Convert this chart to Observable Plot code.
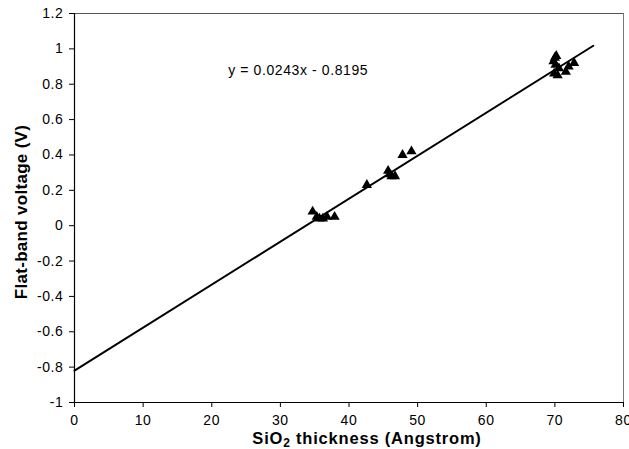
<!DOCTYPE html>
<html><head><meta charset="utf-8">
<script src="https://cdn.jsdelivr.net/npm/d3@7"></script>
<script src="https://cdn.jsdelivr.net/npm/@observablehq/plot@0.6"></script>
<style>
body{margin:0;background:#fff;}
svg{font-family:Arial,"Liberation Sans",sans-serif;}
</style>
</head><body>
<div id="chart"></div>
<script>
const thickness = [34.7,35.3,35.7,36.2,36.8,37.9, 42.6,45.7,45.9,46.2,46.7,47.8,49.1, 69.8,70.0,70.2,70.1,69.9,70.4,70.6,71.6,72.0,72.8];
const vfb       = [0.08,0.05,0.04,0.04,0.05,0.05, 0.23,0.31,0.29,0.28,0.28,0.40,0.42, 0.93,0.95,0.96,0.91,0.86,0.85,0.89,0.87,0.90,0.92];
const fitX = [0, 75.6];
const slope = 0.0243, intercept = -0.8195;
const xTicks = [0,10,20,30,40,50,60,70,80];
const yTicks = [-1,-0.8,-0.6,-0.4,-0.2,0,0.2,0.4,0.6,0.8,1,1.2];
const eqLabel = "y = 0.0243x - 0.8195";

const pts = thickness.map((x,i)=>({x, y: vfb[i]}));
const fit = fitX.map(x=>({x, y: slope*x+intercept}));
const fmt = d => String(+d.toFixed(1));

const plot = Plot.plot({
  width: 629, height: 449,
  marginLeft: 74, marginRight: 6, marginTop: 13, marginBottom: 47,
  style: {fontFamily: "Arial, 'Liberation Sans', sans-serif", fontSize: "14px", color: "#000", background: "#fff", letterSpacing: "0.6px"},
  x: {domain: [0,80], label: null},
  y: {domain: [-1,1.2], label: null},
  marks: [
    Plot.ruleY([1.2], {stroke: "#555", strokeWidth: 1}),
    Plot.ruleX([80], {stroke: "#777", strokeWidth: 1}),
    Plot.ruleX([0], {stroke: "#000", strokeWidth: 1.2}),
    Plot.ruleY([-1], {stroke: "#000", strokeWidth: 1.2}),
    Plot.axisX({ticks: xTicks, tickFormat: fmt, tickSize: 5, tickPadding: 8, label: null, fontSize: 14}),
    Plot.axisY({ticks: yTicks, tickFormat: fmt, tickSize: 5, tickPadding: 6, label: null, fontSize: 14}),
    Plot.line(fit, {x: "x", y: "y", stroke: "#000", strokeWidth: 2}),
    Plot.dot(pts, {x: "x", y: "y", symbol: "triangle", fill: "#000", r: 3.8}),
    Plot.text([{x: 22.4, y: 0.88}], {x: "x", y: "y", text: () => eqLabel, textAnchor: "start", fontSize: 14, fill: "#000"})
  ]
});
document.getElementById("chart").appendChild(plot);

const svg = d3.select(plot);
const xt = svg.append("text")
  .attr("x", 367).attr("y", 443.5)
  .attr("text-anchor", "middle")
  .attr("font-size", 16.5).attr("font-weight", "bold").attr("fill", "#000")
  .style("letter-spacing", "0.8px");
xt.append("tspan").text("SiO");
xt.append("tspan").attr("font-size", 12).attr("dy", 3).text("2");
xt.append("tspan").attr("dy", -3).text(" thickness (Angstrom)");

svg.append("text")
  .attr("transform", "translate(27,212) rotate(-90)")
  .attr("text-anchor", "middle")
  .attr("font-size", 17).attr("font-weight", "bold").attr("fill", "#000")
  .style("letter-spacing", "0.3px")
  .text("Flat-band voltage (V)");
</script>
</body></html>
